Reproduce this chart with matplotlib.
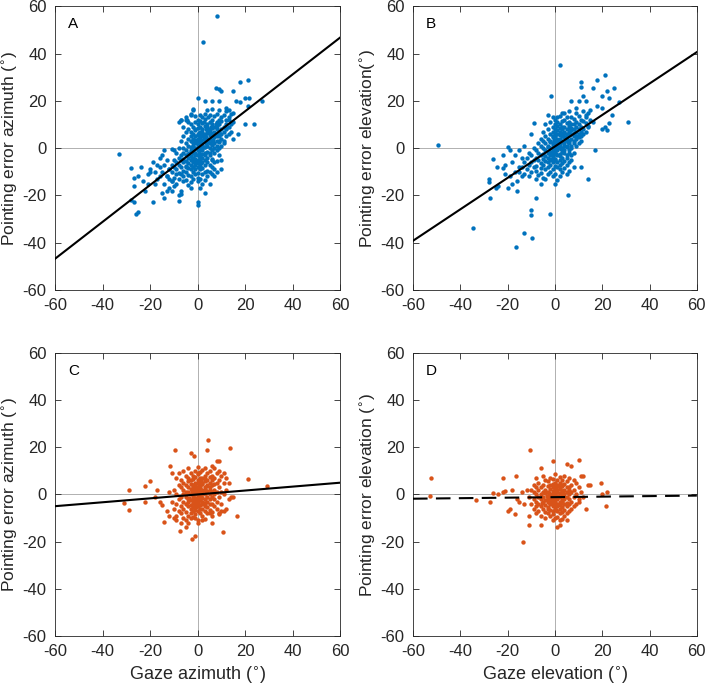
import numpy as np
import matplotlib
matplotlib.use("Agg")
import matplotlib.pyplot as plt

plt.rcParams['font.family'] = ['Liberation Sans', 'DejaVu Sans']
plt.rcParams['mathtext.fontset'] = 'dejavusans'
plt.rcParams['axes.unicode_minus'] = False

blue = '#0072BD'
orange = '#D95319'

# panel A: gaze azimuth vs pointing error azimuth (eye-centred trials)
a_pts = [
    (8, 56), (2.3, 45), (21, 29), (18, 28), (7.5, 25.5), (9, 25), (10, 24), (15, 24),
    (20, 21), (21.5, 21), (27, 20), (0, 21), (6, 20), (3, 20), (9, 20), (16, 20),
    (18, 19.5), (21, 18), (15, 15), (12, 17), (13, 16), (23.5, 10), (20, 10), (17, 6),
    (15, 4), (12, 8), (11, 2), (13, 12), (-5, 12), (-7, 12), (-8, 11), (-3, 14),
    (-2, 16), (-10, -1), (-11, -0.5), (-20, -9), (-20, -10), (-16, -4), (-17, -7),
    (-18, -15), (-19, -23), (-15, -19), (-14, -21), (-13, -18), (-11, -18), (-10, -16),
    (-12, -13), (-8, -22.5), (-8, -20), (-7, -18), (-7, -19.5), (-3, -17), (0, -23),
    (0, -24), (1, -17), (3, -19), (5, -15), (7, -12), (8, -10), (10, -9), (10, -5),
    (-23, -14), (-22, -18), (-24, -8), (-21, -11), (-27, -12.5), (-25, -12), (-28, -22),
    (-27, -23), (-26, -28), (-25, -27), (-27, -16), (-28, -8.5), (-33, -2.5),
    (-15, -10), (-14, -7), (-13, -12), (-12, -9), (-16, -12), (-18, -10), (-17, -13),
    (-14, -15), (-19, -6), (-21, -15), (-13, -5), (-12, -17), (-11, -14), (-16, -8),
    (-15, -3), (-14, -1),
    (-2, 16.5), (4, 16), (6, 16.5), (9, 16), (12, 15.5),
    (-3, 14.5), (1, 14), (3, 14.5), (5, 14), (8, 14.5), (11, 14), (14, 14.5),
    (-5, 13), (-1, 13.5), (2, 13), (4.5, 13), (7, 13.5), (10, 13), (13, 13),
    (-7, 12), (-4.5, 12), (0, 12), (3, 12.5), (6, 12), (9, 12), (12, 12),
    (-4, 11), (-1, 11), (1, 11.5), (2.5, 11), (5, 11), (8, 11), (10, 11.5), (15, 11),
    (-3, 10), (0, 10), (2, 10.5), (4, 10), (6, 10), (7.5, 10), (9, 10), (12, 10), (14, 10),
    (-6, 9), (-2, 9), (1, 9), (3, 9.5), (4, 9), (5.5, 9), (7, 9), (8, 9.5), (11, 9), (13, 9),
    (-4, 8), (-1, 8), (0, 8.5), (2, 8), (3.5, 8), (5, 8), (6, 8.5), (8, 8), (10, 8), (12, 8.5),
    (-5, 7), (-3, 7), (-1, 7.5), (1, 7), (2, 7), (4, 7.5), (5, 7), (7, 7), (9, 7), (11, 7), (14, 7),
    (-2, 6), (0, 6), (1.5, 6), (3, 6), (4, 6.5), (6, 6), (7, 6), (8.5, 6), (10, 6), (13, 6),
    (-6, 5), (-3, 5), (-1, 5), (0, 5.5), (2, 5), (3, 5), (5, 5.5), (6, 5), (8, 5), (9, 5), (12, 5),
    (-4, 4), (-2, 4), (0, 4), (1, 4.5), (2.5, 4), (4, 4), (5, 4), (7, 4.5), (10, 4),
    (-7, 3), (-3, 3), (-1, 3.5), (0, 3), (1, 3), (3, 3), (4, 3.5), (6, 3), (8, 3), (9, 3), (11, 3),
    (-5, 2), (-2, 2), (-1, 2), (1, 2.5), (2, 2), (3.5, 2), (5, 2), (7, 2), (9, 2.5),
    (-4, 1), (-2, 1), (0, 1.5), (1, 1), (2, 1), (4, 1), (6, 1.5), (8, 1), (10, 1),
    (-8, 0), (-6, 0), (-3, 0.5), (-1, 0), (0, 0), (1.5, 0), (3, 0.5), (5, 0), (7, 0), (9, 0),
    (-5, -1), (-3, -1), (-2, -1.5), (0, -1), (1, -1), (2, -1), (4, -1.5), (6, -1), (8, -1),
    (-9, -2), (-6, -2), (-4, -2.5), (-2, -2), (-1, -2), (0.5, -2), (2, -2.5), (3, -2), (5, -2), (7, -2),
    (-7, -3), (-5, -3), (-3, -3.5), (-1, -3), (0, -3), (1, -3.5), (3, -3), (5, -3), (9, -3),
    (-8, -4), (-6, -4.5), (-4, -4), (-2, -4), (-1, -4.5), (1, -4), (2, -4), (4, -4), (6, -4.5),
    (-10, -5), (-7, -5), (-5, -5.5), (-3, -5), (-2, -5), (0, -5), (1, -5.5), (3, -5), (6, -5), (8, -5.5),
    (-9, -6), (-6, -6), (-4, -6.5), (-2, -6), (-1, -6), (0, -6.5), (2, -6), (4, -6), (7, -6),
    (-11, -7), (-8, -7), (-5, -7.5), (-3, -7), (-1, -7), (1, -7.5), (3, -7), (5, -7),
    (-10, -8), (-7, -8), (-5, -8), (-4, -8.5), (-2, -8), (0, -8), (2, -8.5), (6, -8),
    (-12, -9), (-9, -9), (-6, -9.5), (-3, -9), (-1, -9), (1, -9), (4, -9.5), (7, -9),
    (-11, -10), (-8, -10.5), (-5, -10), (-2, -10), (0, -10.5), (3, -10), (5, -10),
    (-9, -11), (-7, -11), (-4, -11.5), (-1, -11), (2, -11), (6, -11),
    (-13, -12), (-10, -12.5), (-6, -12), (-3, -12), (0, -12.5), (4, -12),
    (-8, -13), (-5, -13.5), (-2, -13), (1, -13), (3, -13.5),
    (-11, -14), (-6, -14), (-3, -14.5), (0, -14),
    (-9, -15), (-4, -15.5), (2, -15),
    (0.5, 6.5), (2.5, 5.5), (1.5, 3.5), (3.5, 4.5), (-0.5, 2.5), (4.5, 2.5), (2.5, 0.5),
    (-1.5, -0.5), (0.5, -3.5), (-2.5, -4.5), (1.5, -6.5), (-3.5, -2), (5.5, 6.5), (6.5, 3.5),
]

# panel B: gaze elevation vs pointing error elevation
b_pts = [
    (-49.5, 1.5), (-34.5, -34), (-16.5, -42), (-9.5, -38), (-13, -36), (-10, -26),
    (-10, -28.5), (-2, -28), (-8, -21), (5.5, -20), (14, -13), (-27.5, -21), (-28, -13),
    (-28, -14.5), (-25, -17), (-24, -16), (-26, -4.5), (-24.5, -8), (-22, -8.5),
    (-21, -11), (-22, -3), (-20, 0.5), (-19, -1), (-20, -17), (-16, -18),
    (2, 35), (-1.5, 22), (21, 31), (18, 29), (16, 25.5), (25, 25.5), (22, 24), (23, 21),
    (20, 22), (27, 19.5), (31, 11), (18, 18), (24, 14), (23, 10.5), (22, 7.5), (20, 8),
    (21, 9), (17, -1), (11, -8), (14, 9), (16, 11), (20, 17), (13, 20), (11, 28), (11, 26),
    (15, 16), (10, 20), (12, 22), (13, 14), (9, 17), (7, 20), (4, 15), (1, 13), (-3, 14),
    (-9, 10.5), (-10, 6),
    (-18, -6), (-17, -10), (-15, -8), (-16, -14), (-14, -12), (-19, -12), (-17, -3),
    (-15, -1), (-13, 1), (-21, -7), (-18, -15), (-14, -4),
    (3, 15), (6, 15.5), (9, 15), (12, 15.5), (14, 15),
    (-1, 13), (2, 13.5), (5, 13), (7, 13), (10, 13.5), (13, 13),
    (0, 12), (4, 12), (8, 12.5), (11, 12), (15, 12),
    (-2, 11), (1, 11), (3, 11.5), (6, 11), (9, 11), (12, 11.5),
    (-4, 10), (0, 10), (2, 10), (5, 10.5), (7, 10), (8, 10), (10, 10), (13, 10.5),
    (-1, 9), (1, 9.5), (3, 9), (4, 9), (6, 9.5), (9, 9), (11, 9), (14, 9.5),
    (-3, 8), (0, 8), (2, 8.5), (3, 8), (5, 8), (7, 8.5), (8, 8), (10, 8), (12, 8),
    (-5, 7), (-1, 7), (1, 7.5), (2, 7), (4, 7), (6, 7), (7, 7.5), (9, 7), (11, 7), (13, 7),
    (-2, 6), (0, 6.5), (1, 6), (3, 6), (4, 6.5), (5, 6), (7, 6), (8, 6.5), (10, 6), (12, 6),
    (-4, 5), (-1, 5), (0, 5), (2, 5.5), (3, 5), (5, 5), (6, 5.5), (8, 5), (9, 5), (11, 5),
    (-6, 4), (-3, 4), (-1, 4.5), (1, 4), (2, 4), (4, 4.5), (5, 4), (7, 4), (9, 4), (10, 4.5),
    (-5, 3), (-2, 3), (0, 3), (1, 3.5), (2, 3), (3, 3), (5, 3.5), (6, 3), (8, 3), (11, 3),
    (-7, 2), (-4, 2), (-2, 2.5), (-1, 2), (0, 2), (1, 2), (3, 2.5), (4, 2), (6, 2), (8, 2), (10, 2),
    (-6, 1), (-3, 1), (-1, 1.5), (0, 1), (1, 1), (2, 1.5), (4, 1), (5, 1), (7, 1), (9, 1),
    (-9, 0), (-5, 0), (-3, 0.5), (-2, 0), (0, 0), (1, 0.5), (2, 0), (3, 0), (5, 0.5), (7, 0),
    (-8, -1), (-4, -1), (-2, -1.5), (-1, -1), (0, -1), (1, -1), (3, -1.5), (4, -1), (6, -1),
    (-11, -2), (-7, -2), (-5, -2.5), (-3, -2), (-1, -2), (0, -2), (2, -2.5), (4, -2), (6, -2), (8, -2),
    (-10, -3), (-6, -3), (-4, -3.5), (-2, -3), (-1, -3), (1, -3), (2, -3.5), (5, -3), (7, -3),
    (-12, -4), (-8, -4), (-5, -4.5), (-3, -4), (-1, -4), (0, -4.5), (3, -4), (5, -4),
    (-9, -5), (-7, -5), (-4, -5.5), (-2, -5), (0, -5), (2, -5), (4, -5.5), (7, -5),
    (-13, -6), (-10, -6), (-6, -6.5), (-3, -6), (-1, -6), (1, -6), (3, -6.5), (6, -6),
    (-11, -7), (-8, -7.5), (-5, -7), (-2, -7), (0, -7.5), (2, -7), (5, -7),
    (-14, -8), (-9, -8), (-6, -8.5), (-3, -8), (1, -8), (4, -8.5), (8, -8),
    (-12, -9), (-8, -9.5), (-4, -9), (-1, -9), (2, -9), (6, -9.5),
    (-15, -10), (-10, -10), (-6, -10.5), (-2, -10), (3, -10),
    (-13, -11), (-7, -11.5), (-3, -11), (0, -11), (5, -11),
    (-11, -12), (-5, -12.5), (-1, -12), (2, -12),
    (-8, -13), (-4, -13), (1, -13.5),
    (-6, -15), (0, -15),
    (2.5, 6.5), (4.5, 3.5), (1.5, 1.5), (3.5, 5.5), (-0.5, 3.5), (6.5, 8.5), (0.5, -2.5),
    (-1.5, -4.5), (2.5, -0.5), (5.5, 2.5),
]

# panel C: gaze azimuth vs pointing error azimuth (head-centred trials)
c_pts = [
    (29, 3.5), (21, 6.5), (16.5, -9), (10.5, -16), (13.5, 19.5), (4.5, 23), (4, 19),
    (-9.5, 19), (-3, 17.5), (-1.5, 16.5), (-11.5, 12), (-2.5, -19), (-1, -17.5),
    (-7.5, -15.5), (-5, -14), (-31, -3.5), (-29, -6.5), (-29, 2), (-22, -3), (-22, 3.5),
    (-20, 5.5), (-17, 2), (-16, -3), (-14, -11.5), (-13, -7), (-15, -4.5), (-18, -1),
    (-12, 1), (-11, 9), (8, 14), (9, 14), (6, 12), (11, 9), (12, 7), (13, 5), (14, -1),
    (15, -1), (12, -6), (9, -8), (10, -7), (6, -12), (5, -8), (-12, -9), (-10, -10),
    (-9, -11), (-7, -12), (-4, -12), (-3, -10), (0, -12), (2, -11),
    (-4, 11), (0, 11.5), (3, 11), (7, 11),
    (-6, 10), (-1, 10), (2, 10.5), (5, 10), (9, 10),
    (-8, 9), (-3, 9), (0, 9), (1, 9.5), (4, 9), (8, 9),
    (-5, 8), (-2, 8), (0, 8.5), (3, 8), (6, 8), (10, 8),
    (-9, 7), (-4, 7), (-1, 7.5), (1, 7), (2, 7), (5, 7.5), (7, 7),
    (-7, 6), (-3, 6), (-2, 6.5), (0, 6), (1, 6), (3, 6.5), (4, 6), (6, 6), (9, 6),
    (-6, 5), (-4, 5.5), (-1, 5), (0, 5), (2, 5), (3, 5.5), (5, 5), (8, 5), (11, 5),
    (-8, 4), (-5, 4), (-3, 4.5), (-2, 4), (-1, 4), (1, 4), (2, 4.5), (4, 4), (6, 4), (7, 4.5),
    (-7, 3), (-4, 3), (-2, 3), (-1, 3.5), (0, 3), (1, 3), (3, 3), (4, 3.5), (5, 3), (9, 3),
    (-10, 2), (-6, 2), (-3, 2.5), (-2, 2), (0, 2), (1, 2.5), (2, 2), (3, 2), (5, 2), (7, 2), (12, 2),
    (-5, 1), (-4, 1), (-1, 1.5), (0, 1), (1, 1), (2, 1), (4, 1.5), (6, 1), (8, 1), (10, 1),
    (-9, 0), (-6, 0), (-3, 0), (-2, 0.5), (-1, 0), (0, 0), (1, 0.5), (2, 0), (3, 0), (5, 0), (7, 0), (11, 0),
    (-7, -1), (-5, -1), (-2, -1), (-1, -1.5), (0, -1), (1, -1), (2, -1.5), (4, -1), (6, -1), (9, -1),
    (-8, -2), (-4, -2), (-3, -2.5), (-1, -2), (0, -2), (1, -2.5), (3, -2), (5, -2), (7, -2), (13, -2),
    (-11, -3), (-6, -3), (-4, -3), (-2, -3.5), (-1, -3), (0, -3), (2, -3), (3, -3.5), (4, -3), (8, -3),
    (-9, -4), (-5, -4), (-3, -4.5), (-1, -4), (0, -4), (1, -4.5), (2, -4), (5, -4), (6, -4), (10, -4),
    (-7, -5), (-4, -5), (-2, -5.5), (-1, -5), (0, -5), (3, -5), (4, -5.5), (7, -5),
    (-10, -6), (-6, -6), (-3, -6), (-1, -6.5), (1, -6), (2, -6), (5, -6.5), (8, -6),
    (-8, -7), (-5, -7.5), (-2, -7), (0, -7), (3, -7), (6, -7.5), (11, -7),
    (-7, -8), (-3, -8), (-1, -8.5), (1, -8), (4, -8), (9, -8.5),
    (-9, -9), (-4, -9), (-2, -9.5), (2, -9), (6, -9),
    (-6, -10), (-1, -10), (3, -10.5),
    (-5, -11), (0, -11),
    (-0.5, 2.5), (1.5, -0.5), (-1.5, -2.5), (0.5, 4.5), (2.5, -3.5), (-2.5, 1.5), (3.5, 1.5),
    (-0.5, -5.5), (1.5, 5.5), (-3.5, -1.5),
]

# panel D: gaze elevation vs pointing error elevation (head-centred trials)
d_pts = [
    (-52.5, 7), (-53, -0.5), (-33.5, -2.5), (-27.5, -3), (-26, 0.5), (-24, 0), (-22, 7),
    (-22, 1), (-21, 1.5), (-20, -7), (-19, -6), (-17, -8.5), (-16.5, 8), (-18, 2),
    (-15, -3), (-13.5, -20), (-11, -13), (-11, -9), (-10.5, 19), (-6, -13), (-6, 11),
    (-1, 14), (1, -14), (2, -13), (5, -11), (5, 13), (7, 12), (10, 14.5), (12, 8),
    (11, 8), (14, 4), (15, 4), (19.5, 5), (20, 0), (22, 1), (21.5, -5), (13, -6),
    (12, -1), (10, -3), (-13, -4), (-12, 2), (-16, -2), (-14, 1),
    (-5, 8), (0, 8.5), (4, 8),
    (-8, 7), (-2, 7), (2, 7.5), (6, 7),
    (-4, 6), (-1, 6.5), (1, 6), (3, 6), (8, 6),
    (-7, 5), (-3, 5.5), (0, 5), (2, 5), (5, 5.5), (9, 5),
    (-9, 4), (-5, 4), (-2, 4), (-1, 4.5), (1, 4), (3, 4), (4, 4.5), (7, 4),
    (-8, 3), (-6, 3), (-3, 3.5), (-1, 3), (0, 3), (2, 3), (3, 3.5), (5, 3), (6, 3), (10, 3),
    (-10, 2), (-7, 2), (-4, 2), (-2, 2.5), (0, 2), (1, 2), (2, 2.5), (4, 2), (6, 2), (8, 2),
    (-9, 1), (-5, 1), (-3, 1), (-1, 1.5), (0, 1), (1, 1), (3, 1.5), (5, 1), (7, 1), (11, 1),
    (-8, 0), (-6, 0), (-4, 0.5), (-2, 0), (-1, 0), (0, 0), (2, 0.5), (3, 0), (4, 0), (6, 0), (9, 0),
    (-11, -1), (-7, -1), (-5, -1), (-3, -1.5), (-2, -1), (-1, -1), (0, -1), (1, -1.5), (2, -1), (4, -1), (5, -1), (8, -1),
    (-9, -2), (-6, -2), (-4, -2.5), (-3, -2), (-1, -2), (0, -2), (1, -2), (3, -2.5), (4, -2), (6, -2), (10, -2),
    (-8, -3), (-5, -3), (-3, -3), (-2, -3.5), (-1, -3), (0, -3), (2, -3), (3, -3), (5, -3.5), (7, -3),
    (-10, -4), (-7, -4), (-4, -4.5), (-2, -4), (-1, -4), (1, -4), (2, -4.5), (4, -4), (6, -4), (9, -4),
    (-8, -5), (-6, -5), (-3, -5.5), (-1, -5), (0, -5), (1, -5), (3, -5.5), (5, -5), (8, -5),
    (-9, -6), (-5, -6), (-3, -6), (-2, -6.5), (0, -6), (2, -6), (4, -6.5), (7, -6),
    (-7, -7), (-4, -7.5), (-1, -7), (1, -7), (3, -7.5), (6, -7),
    (-8, -8), (-3, -8), (-1, -8.5), (2, -8), (5, -8),
    (-6, -9), (-2, -9), (1, -9.5), (4, -9),
    (-4, -10), (0, -10), (3, -10.5),
    (-1, -11), (2, -11),
    (-0.5, 1.5), (1.5, -0.5), (-1.5, -2.5), (0.5, 2.5), (2.5, -3.5), (-2.5, 0.5), (3.5, 1.5),
    (-0.5, -4.5), (1.5, 3.5), (-3.5, -0.5), (0.5, -6.5), (-5.5, -3.5),
]

# regression lines (slope, intercept)
fit_a = (0.78, 0.0)
fit_b = (0.665, 0.7)
fit_c = (0.083, 0.0)
fit_d = (0.011, -1.15)

panels = [
    ('A', a_pts, blue, fit_a, '-', 'Pointing error azimuth ($^{\\circ}$)', None),
    ('B', b_pts, blue, fit_b, '-', 'Pointing error elevation($^{\\circ}$)', None),
    ('C', c_pts, orange, fit_c, '-', 'Pointing error azimuth ($^{\\circ}$)', 'Gaze azimuth ($^{\\circ}$)'),
    ('D', d_pts, orange, fit_d, (0, (7, 4)), 'Pointing error elevation ($^{\\circ}$)', 'Gaze elevation ($^{\\circ}$)'),
]
positions = [
    [0.078, 0.581, 0.404, 0.410],
    [0.585, 0.581, 0.402, 0.410],
    [0.078, 0.081, 0.404, 0.409],
    [0.585, 0.081, 0.402, 0.409],
]

fig = plt.figure(figsize=(7.06, 6.92), dpi=100)
for (letter, pts, col, fit, ls, ylab, xlab), pos in zip(panels, positions):
    ax = fig.add_axes(pos)
    pts = np.array(pts)
    ax.axhline(0, color='#b0b0b0', lw=0.7, zorder=0)
    ax.axvline(0, color='#b0b0b0', lw=0.7, zorder=0)
    ax.scatter(pts[:, 0], pts[:, 1], s=10, c=col, linewidths=0, zorder=2)
    xx = np.array([-60, 60])
    ax.plot(xx, fit[0] * xx + fit[1], color='black', lw=1.5, linestyle=ls, zorder=3)
    ax.set_xlim(-60, 60)
    ax.set_ylim(-60, 60)
    ax.set_xticks(range(-60, 61, 20))
    ax.set_yticks(range(-60, 61, 20))
    ax.tick_params(direction='in', top=True, right=True, length=4, width=0.6,
                   labelsize=12, colors='#262626', pad=6)
    for sp in ax.spines.values():
        sp.set_color('#262626')
        sp.set_linewidth(0.6)
    ax.set_ylabel(ylab, fontsize=12.5, color='#262626')
    ax.yaxis.set_label_coords(-0.122, 0.5)
    if xlab:
        ax.set_xlabel(xlab, fontsize=13, color='#262626', labelpad=4)
    ax.text(-54.5, 52.5, letter, fontsize=11, color='black', va='center', ha='left')

fig.savefig('out.png', dpi=100)
